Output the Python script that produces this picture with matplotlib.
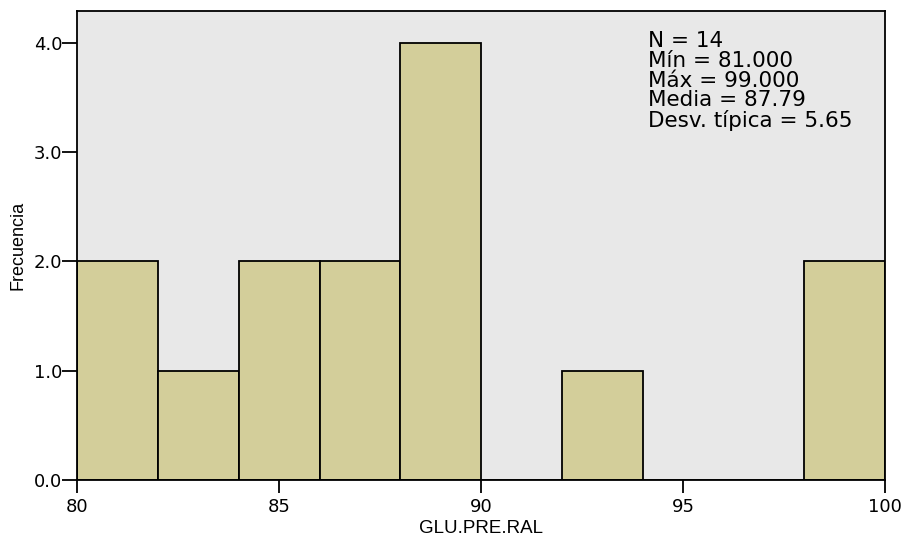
import numpy as np
import matplotlib
matplotlib.use("Agg")
import matplotlib.pyplot as plt

plt.rcParams['font.family'] = ['Liberation Sans', 'DejaVu Sans']

# histogram bins (width 2) and counts
bin_edges = [80, 82, 84, 86, 88, 90, 92, 94, 96, 98, 100]
counts = [2, 1, 2, 2, 4, 0, 1, 0, 0, 2]
x_ticks = [80, 85, 90, 95, 100]
y_ticks = [0.0, 1.0, 2.0, 3.0, 4.0]
stats_lines = ["N = 14", "Mín = 81.000", "Máx = 99.000", "Media = 87.79", "Desv. típica = 5.65"]

fig = plt.figure(figsize=(9.06, 5.45), dpi=100)
ax = fig.add_axes([0.0855, 0.1193, 0.9768 - 0.0855, 0.9798 - 0.1193])
ax.set_facecolor('#E8E8E8')

left = np.array(bin_edges[:-1])
widths = np.diff(bin_edges)
ax.bar(left, counts, width=widths, align='edge', color='#D3CE9A',
       edgecolor='black', linewidth=1.3, zorder=2)

ax.set_xlim(80, 100)
ax.set_ylim(0, 4.29)
ax.set_xticks(x_ticks)
ax.set_xticklabels([str(t) for t in x_ticks], family='DejaVu Sans', fontsize=13)
ax.set_yticks(y_ticks)
ax.set_yticklabels(["%.1f" % t for t in y_ticks], family='DejaVu Sans', fontsize=13)
ax.tick_params(axis='x', direction='out', length=9, width=1.3, pad=4)
ax.tick_params(axis='y', direction='out', length=11, width=1.3, pad=0)

for s in ax.spines.values():
    s.set_linewidth(1.3)

ax.set_xlabel("GLU.PRE.RAL", fontsize=13.5, labelpad=3)
ax.set_ylabel("Frecuencia", fontsize=13, labelpad=5)

ax.text(0.707, 0.957, "\n".join(stats_lines), transform=ax.transAxes,
        family='DejaVu Sans', fontsize=15.5, va='top', ha='left', linespacing=0.98)

fig.savefig("out.png", dpi=100)
